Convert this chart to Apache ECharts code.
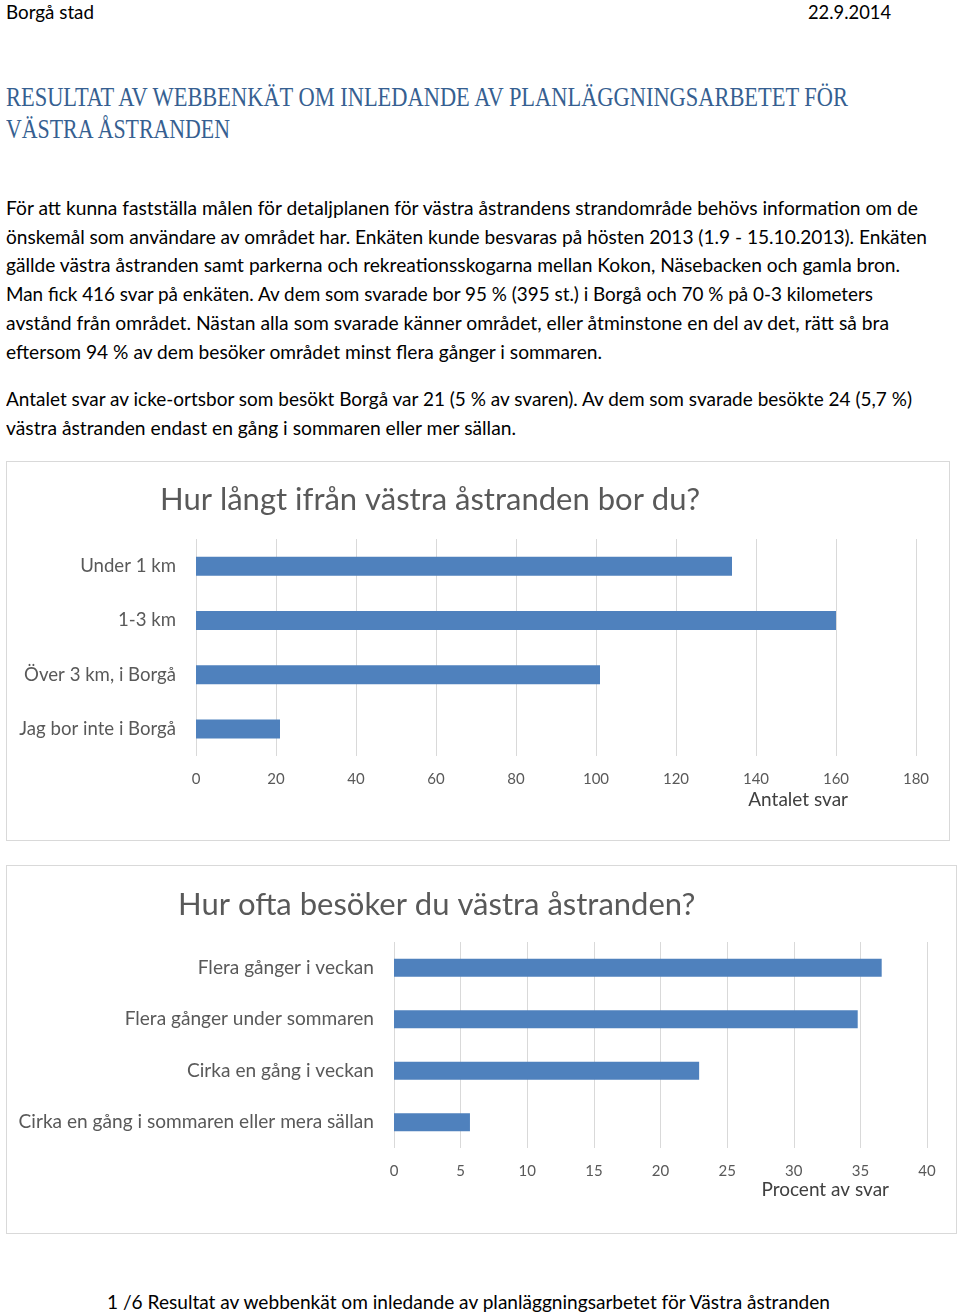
<!DOCTYPE html>
<html>
<head>
<meta charset="utf-8">
<script src="https://cdn.jsdelivr.net/npm/echarts@6/dist/echarts.min.js"></script>
<style>
  html, body { margin: 0; padding: 0; background: #fff; width: 960px; height: 1313px; overflow: hidden; }
  .t { position: absolute; white-space: nowrap; transform-origin: 0 50%; line-height: 1; }
  .body { font-family: Lato, "Open Sans", sans-serif; font-size: 19px; color: #000; }
  .head { font-family: "Liberation Serif", serif; font-size: 27px; color: #365F91; }
  .box { position: absolute; border: 1px solid #d9d9d9; box-sizing: border-box; background: #fff; }
</style>
</head>
<body>
<script>
// ---------- Data ----------
const distCategories = ['Under 1 km', '1-3 km', 'Över 3 km, i Borgå', 'Jag bor inte i Borgå'];
const distValues = [134, 160, 101, 21];
const distTitle = 'Hur långt ifrån västra åstranden bor du?';
const distAxisName = 'Antalet svar';

const freqCategories = ['Flera gånger i veckan', 'Flera gånger under sommaren', 'Cirka en gång i veckan', 'Cirka en gång i sommaren eller mera sällan'];
const freqValues = [36.6, 34.8, 22.9, 5.7];
const freqTitle = 'Hur ofta besöker du västra åstranden?';
const freqAxisName = 'Procent av svar';

const pageTexts = [
  // [text, class, left, centerY, targetWidth]
  ['Borgå stad', 'body', 6, 11, 88],
  ['22.9.2014', 'body', 808, 11, 83],
  ['RESULTAT AV WEBBENKÄT OM INLEDANDE AV PLANLÄGGNINGSARBETET FÖR', 'head', 6, 97, 842],
  ['VÄSTRA ÅSTRANDEN', 'head', 6, 129, 224],
  ['För att kunna fastställa målen för detaljplanen för västra åstrandens strandområde behövs information om de', 'body', 6, 207, 912],
  ['önskemål som användare av området har. Enkäten kunde besvaras på hösten 2013 (1.9 - 15.10.2013).  Enkäten', 'body', 6, 236, 921],
  ['gällde västra åstranden samt parkerna och rekreationsskogarna mellan Kokon, Näsebacken och gamla bron.', 'body', 6, 264, 894],
  ['Man fick 416 svar på enkäten. Av dem som svarade bor 95 % (395 st.) i Borgå och 70 % på 0-3 kilometers', 'body', 6, 293, 867],
  ['avstånd från området. Nästan alla som svarade känner området, eller åtminstone en del av det, rätt så bra', 'body', 6, 322, 883],
  ['eftersom 94 % av dem besöker området minst flera gånger i sommaren.', 'body', 6, 351, 596],
  ['Antalet svar av icke-ortsbor som besökt Borgå var 21 (5 % av svaren). Av dem som svarade besökte 24 (5,7 %)', 'body', 6, 398, 906],
  ['västra åstranden endast en gång i sommaren eller mer sällan.', 'body', 6, 427, 510],
  ['1 /6 Resultat av webbenkät om inledande av planläggningsarbetet för Västra åstranden', 'body', 107, 1301, 723]
];

// ---------- Page text ----------
pageTexts.forEach(([txt, cls, x, cy, w]) => {
  const el = document.createElement('div');
  el.className = 't ' + cls;
  el.textContent = txt;
  document.body.appendChild(el);
  const r = el.getBoundingClientRect();
  el.style.left = x + 'px';
  el.style.top = (cy - r.height / 2) + 'px';
  el.style.transform = 'scaleX(' + (w / r.width) + ')';
});

function makeBox(left, top, w, h) {
  const d = document.createElement('div');
  d.className = 'box';
  Object.assign(d.style, { left: left + 'px', top: top + 'px', width: w + 'px', height: h + 'px' });
  document.body.appendChild(d);
  return d;
}

const FONT = 'Lato, "Open Sans", sans-serif';

function barOption(o) {
  return {
    animation: false,
    title: {
      text: o.title, left: o.titleLeft, top: o.titleTop,
      textStyle: { fontFamily: FONT, fontSize: 31, fontWeight: 'normal', color: '#595959' }
    },
    grid: { left: o.gridLeft, top: o.gridTop, width: o.gridW, height: o.gridH, containLabel: false },
    xAxis: {
      type: 'value', min: 0, max: o.max, interval: o.interval,
      axisLine: { show: false }, axisTick: { show: false },
      splitLine: { show: true, lineStyle: { color: '#d9d9d9', width: 1 } },
      axisLabel: { fontFamily: FONT, fontSize: 15, color: '#595959', margin: 16 },
      name: o.axisName, nameLocation: 'end', nameGap: o.nameGap,
      nameTextStyle: { fontFamily: FONT, fontSize: 19, color: '#404040', align: 'right', verticalAlign: 'top', padding: [o.namePadTop, 0, 0, 0] }
    },
    yAxis: {
      type: 'category', data: o.categories, inverse: true,
      axisLine: { show: false }, axisTick: { show: false }, splitLine: { show: false },
      axisLabel: { fontFamily: FONT, fontSize: o.labelSize, color: '#595959', margin: o.labelMargin }
    },
    series: [{
      type: 'bar', data: o.values, barWidth: o.barWidth,
      itemStyle: { color: '#4F81BD' }, silent: true
    }]
  };
}

const box1 = makeBox(6, 461, 944, 380);
echarts.init(box1, null, { renderer: 'canvas', width: 942, height: 378 }).setOption(barOption({
  title: distTitle, titleLeft: 148, titleTop: 17,
  gridLeft: 189, gridTop: 77, gridW: 720, gridH: 217,
  max: 180, interval: 20, axisName: distAxisName, nameGap: -68, namePadTop: 34,
  categories: distCategories, values: distValues, labelMargin: 20, labelSize: 18.6, barWidth: 19
}));

const box2 = makeBox(6, 865, 951, 369);
echarts.init(box2, null, { renderer: 'canvas', width: 949, height: 367 }).setOption(barOption({
  title: freqTitle, titleLeft: 166, titleTop: 18,
  gridLeft: 387, gridTop: 76, gridW: 533, gridH: 206,
  max: 40, interval: 5, axisName: freqAxisName, nameGap: -38, namePadTop: 32,
  categories: freqCategories, values: freqValues, labelMargin: 20, labelSize: 19.1, barWidth: 18
}));
</script>
</body>
</html>
